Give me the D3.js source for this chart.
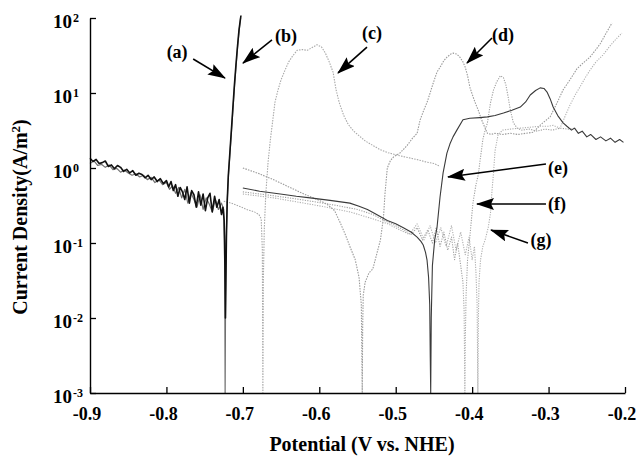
<!DOCTYPE html>
<html><head><meta charset="utf-8">
<script src="https://cdn.jsdelivr.net/npm/d3@7"></script>
<style>
body{margin:0;background:#fff;}
svg{display:block;}
text{font-family:"Liberation Serif","Times New Roman",serif;font-weight:bold;fill:#000;}
</style></head><body>
<svg id="chart" width="639" height="457"></svg>
<script>
// ---- tick definitions ----
const xTicks = [-0.9,-0.8,-0.7,-0.6,-0.5,-0.4,-0.3,-0.2];
const xTickLabels = ["-0.9","-0.8","-0.7","-0.6","-0.5","-0.4","-0.3","-0.2"];
const yTicks = [1e-3,1e-2,1e-1,1,10,100];
const yTickExponents = ["-3","-2","-1","0","1","2"];

// ---- series (potential V vs NHE, current density A/m2) ----
const potA = [-0.900,-0.896,-0.892,-0.888,-0.884,-0.880,-0.876,-0.872,-0.868,-0.864,-0.860,-0.856,-0.852,-0.848,-0.844,-0.840,-0.836,-0.832,-0.828,-0.824,-0.820,-0.816,-0.812,-0.808,-0.804,-0.800,
  -0.797,-0.794,-0.791,-0.788,-0.785,-0.782,-0.779,-0.776,-0.773,-0.770,-0.767,-0.764,-0.761,-0.758,-0.755,-0.752,-0.749,-0.746,-0.743,-0.740,-0.737,-0.734,-0.731,-0.728,
  -0.726,-0.7245,-0.7235,-0.7228,-0.7222,-0.7215,-0.7205,-0.719,-0.717,-0.715,-0.713,-0.711,-0.709,-0.707,-0.705,-0.7025];
const curA = [1.35,1.22,1.30,1.15,1.18,1.24,1.05,1.10,0.98,1.08,1.02,0.90,0.96,0.86,0.92,0.80,0.85,0.82,0.74,0.80,0.70,0.76,0.66,0.72,0.62,0.68,
  0.56,0.66,0.50,0.60,0.42,0.55,0.48,0.38,0.56,0.34,0.50,0.44,0.30,0.48,0.32,0.45,0.27,0.40,0.46,0.26,0.42,0.30,0.38,0.24,
  0.30,0.20,0.05,0.010,0.03,0.12,0.35,0.80,1.6,3.2,6.5,13,24,42,70,108];

const potB = [-0.900,-0.895,-0.890,-0.885,-0.880,-0.875,-0.870,-0.865,-0.860,-0.855,-0.850,-0.845,-0.840,-0.835,-0.830,-0.825,-0.820,-0.815,-0.810,-0.805,-0.800,
  -0.796,-0.792,-0.788,-0.784,-0.780,-0.776,-0.772,-0.768,-0.764,-0.760,-0.756,-0.752,-0.748,-0.744,-0.740,-0.736,-0.732,-0.728,
  -0.725,-0.7238,-0.7232,-0.7226,-0.722,-0.7205,-0.719,-0.717,-0.715,-0.713,-0.711,-0.709,-0.707,-0.705,-0.703];
const curB = [1.15,1.25,1.08,1.12,1.02,1.10,0.95,0.99,0.88,0.94,0.86,0.80,0.84,0.76,0.80,0.70,0.75,0.64,0.70,0.60,0.64,
  0.52,0.58,0.46,0.55,0.40,0.52,0.34,0.47,0.38,0.30,0.44,0.28,0.40,0.33,0.26,0.38,0.28,0.34,
  0.28,0.10,0.001,0.02,0.10,0.35,0.75,1.5,3.0,6.0,12,22,40,65,100];

const potC = [-0.725,-0.715,-0.705,-0.695,-0.685,-0.679,-0.676,-0.6745,-0.6738,-0.6732,-0.672,-0.670,-0.667,-0.664,-0.661,-0.658,-0.654,-0.650,-0.645,-0.640,
  -0.635,-0.629,-0.622,-0.616,-0.610,-0.603,-0.597,-0.592,-0.587,-0.582,-0.578,-0.574,-0.568,-0.562,-0.555,-0.548,-0.540,-0.530,-0.520,-0.510,
  -0.500,-0.490,-0.480,-0.470,-0.460,-0.450,-0.442];
const curC = [0.36,0.34,0.31,0.28,0.26,0.24,0.21,0.08,0.001,0.03,0.15,0.45,1.2,2.4,4.2,7.5,11,15,20,26,
  31,37,38,37,40,44,41,34,26,19,11,7.5,5.0,3.8,3.1,2.7,2.3,2.0,1.75,1.6,
  1.5,1.42,1.35,1.28,1.2,1.15,1.05];

const potD = [-0.700,-0.680,-0.660,-0.640,-0.620,-0.600,-0.590,-0.580,-0.573,-0.566,-0.560,-0.553,-0.548,-0.545,-0.5438,-0.5432,-0.5425,-0.540,-0.535,-0.530,
  -0.525,-0.520,-0.516,-0.514,-0.511,-0.507,-0.503,-0.494,-0.485,-0.478,-0.472,-0.468,-0.463,-0.459,-0.455,-0.451,-0.446,-0.442,-0.437,-0.433,
  -0.428,-0.425,-0.420,-0.416,-0.412,-0.409,-0.406,-0.403,-0.399,-0.395,-0.392,-0.389,-0.386,-0.383,-0.380,-0.375,-0.370,-0.360,-0.350,-0.340,-0.330,
  -0.320,-0.310,-0.298,-0.290,-0.281,-0.272,-0.263,-0.255,-0.246,-0.238,-0.232,-0.225,-0.217];
const curD = [1.0,0.85,0.70,0.56,0.45,0.37,0.33,0.27,0.19,0.13,0.09,0.06,0.035,0.015,0.001,0.008,0.02,0.03,0.04,0.045,
  0.07,0.11,0.22,0.46,1.0,1.25,1.4,1.6,2.0,2.5,2.9,4.4,6.0,7.5,10,13.5,19,22,27,30,
  33,34,33,30,26,22,17,12,9,7,5.9,4.8,4.0,3.4,2.9,2.8,2.9,2.8,2.9,2.8,2.9,
  3.0,3.8,4.8,7.0,11,15,21,25,30,38,46,62,86];

const potE = [-0.700,-0.678,-0.651,-0.630,-0.612,-0.586,-0.560,-0.548,-0.537,-0.525,-0.511,-0.500,-0.490,-0.480,-0.472,-0.467,-0.464,-0.461,-0.459,-0.457,
  -0.4555,-0.4548,-0.4542,-0.4535,-0.452,-0.449,-0.446,-0.442,-0.438,-0.433,-0.429,-0.425,-0.420,-0.412,-0.403,-0.390,-0.380,-0.370,-0.359,-0.348,
  -0.337,-0.330,-0.324,-0.317,-0.311,-0.306,-0.302,-0.298,-0.294,-0.288,-0.281,-0.276,-0.270,-0.266,-0.261,-0.256,-0.250,-0.245,-0.238,-0.232,
  -0.225,-0.219,-0.213,-0.207,-0.202];
const curE = [0.54,0.49,0.45,0.42,0.40,0.37,0.34,0.31,0.28,0.24,0.20,0.18,0.16,0.14,0.12,0.105,0.094,0.075,0.059,0.035,
  0.015,0.003,0.001,0.01,0.05,0.11,0.16,0.41,0.86,1.58,2.1,2.6,3.2,4.4,4.6,4.7,4.8,5.0,5.4,5.9,
  6.5,7.6,9.4,10.8,11.7,11.5,10.3,8.4,6.5,5.0,4.0,3.6,3.2,3.4,2.9,3.1,2.6,2.8,2.4,2.6,
  2.3,2.5,2.2,2.4,2.2];

const potF = [-0.700,-0.670,-0.640,-0.610,-0.580,-0.550,-0.530,-0.515,-0.500,-0.490,-0.480,-0.472,-0.465,-0.458,-0.452,-0.447,-0.442,-0.437,-0.432,-0.427,
  -0.423,-0.419,-0.415,-0.412,-0.4105,-0.4095,-0.4088,-0.408,-0.406,-0.403,-0.399,-0.395,-0.392,-0.389,-0.386,-0.383,-0.380,-0.376,-0.372,-0.368,
  -0.363,-0.359,-0.356,-0.353,-0.350,-0.346,-0.341,-0.335,-0.325,-0.315,-0.305,-0.295,-0.285,-0.275,-0.265];
const curF = [0.48,0.44,0.40,0.36,0.32,0.28,0.24,0.20,0.17,0.15,0.13,0.16,0.11,0.15,0.10,0.16,0.09,0.14,0.08,0.12,
  0.06,0.10,0.05,0.03,0.012,0.001,0.006,0.02,0.06,0.12,0.34,0.6,0.81,1.4,2.4,3.2,4.0,7.4,11,14,
  17,16,13,9,5.9,4.0,3.4,3.2,3.3,3.1,3.3,3.2,3.4,3.3,3.4];

const potG = [-0.700,-0.660,-0.620,-0.590,-0.560,-0.530,-0.510,-0.495,-0.482,-0.472,-0.463,-0.455,-0.448,-0.441,-0.434,-0.427,-0.421,-0.415,-0.409,-0.404,
  -0.400,-0.397,-0.395,-0.3935,-0.3925,-0.3918,-0.391,-0.389,-0.386,-0.383,-0.379,-0.376,-0.374,-0.372,-0.370,-0.366,-0.360,-0.350,-0.337,-0.324,
  -0.311,-0.300,-0.294,-0.288,-0.285,-0.278,-0.272,-0.265,-0.259,-0.252,-0.246,-0.238,-0.229,-0.220,-0.212,-0.204];
const curG = [0.45,0.40,0.34,0.30,0.26,0.21,0.18,0.15,0.13,0.18,0.11,0.17,0.10,0.16,0.09,0.17,0.08,0.14,0.07,0.12,
  0.06,0.09,0.04,0.015,0.001,0.01,0.03,0.06,0.09,0.11,0.16,0.25,0.5,0.86,1.7,2.8,3.2,3.3,3.4,3.5,
  3.6,3.6,3.7,3.5,3.4,5.0,6.9,9.5,12,16,20,26,32,42,52,63];

// ---- annotations (data coordinates) ----
const annLabels = ["(a)","(b)","(c)","(d)","(e)","(f)","(g)"];
const annLabelV = [-0.786,-0.6436,-0.531,-0.3596,-0.2877,-0.289,-0.310];
const annLabelI = [35.2,57.5,63,59.3,1.0,0.331,0.1096];
const annTailV = [-0.765,-0.6619,-0.5376,-0.374,-0.3034,-0.3034,-0.327];
const annTailI = [28.4,50.9,41,54.1,1.13,0.331,0.1];
const annTipV = [-0.7234,-0.6998,-0.5755,-0.4067,-0.4316,-0.3937,-0.3753];
const annTipI = [15.8,25.1,18.5,25.1,0.759,0.331,0.149];

// ---- drawing ----
const svg = d3.select("#chart");
const x = d3.scaleLinear().domain([-0.9,-0.2]).range([90,625]);
const y = d3.scaleLog().domain([1e-3,1e2]).range([393,18]);

const series = [
  {p:potC, c:curC, stroke:"#a8a8a8", w:1.1, dash:"1.5,1.2"},
  {p:potD, c:curD, stroke:"#9a9a9a", w:1.1, dash:"1.5,1.2"},
  {p:potF, c:curF, stroke:"#a0a0a0", w:1.1, dash:"1.2,1.3"},
  {p:potG, c:curG, stroke:"#b0b0b0", w:1.1, dash:"1.2,1.3"},
  {p:potE, c:curE, stroke:"#3a3a3a", w:1.1, dash:null},
  {p:potB, c:curB, stroke:"#707070", w:1.2, dash:null},
  {p:potA, c:curA, stroke:"#111111", w:1.6, dash:null}
];
const line = d3.line().x(d=>x(d[0])).y(d=>y(d[1]));
svg.append("g").selectAll("path").data(series).join("path")
  .attr("d", s => line(d3.zip(s.p, s.c)))
  .attr("fill","none")
  .attr("stroke", s=>s.stroke)
  .attr("stroke-width", s=>s.w)
  .attr("stroke-dasharray", s=>s.dash)
  .attr("stroke-linejoin","round");

// axes
const xAxis = d3.axisBottom(x).tickValues(xTicks).tickSize(-6).tickSizeOuter(0).tickFormat("");
const gx = svg.append("g").attr("transform","translate(0,393)").call(xAxis);
const yAxis = d3.axisLeft(y).tickValues(yTicks).tickSize(-6).tickSizeOuter(0).tickFormat("");
const gy = svg.append("g").attr("transform","translate(90,0)").call(yAxis);
[gx,gy].forEach(g=>{
  g.select(".domain").attr("stroke","#000").attr("stroke-width",1.4);
  g.selectAll(".tick line").attr("stroke","#000").attr("stroke-width",1.3);
});

svg.append("g").selectAll("text").data(xTicks).join("text")
  .attr("x", d=>x(d)-3).attr("y",420)
  .attr("text-anchor","middle").style("font-size","18px")
  .text((d,i)=>xTickLabels[i]);

const yl = svg.append("g");
yl.selectAll("text.base").data(yTicks).join("text").attr("class","base")
  .attr("x",72).attr("y",d=>y(d)+10)
  .attr("text-anchor","end").style("font-size","19px").text("10");
yl.selectAll("text.exp").data(yTicks).join("text").attr("class","exp")
  .attr("x",73).attr("y",d=>y(d)+4)
  .attr("text-anchor","start").style("font-size","12px")
  .text((d,i)=>yTickExponents[i]);

// titles
svg.append("text").attr("x",362).attr("y",451).attr("text-anchor","middle")
  .style("font-size","20px").text("Potential (V vs. NHE)");
const yt = svg.append("text").attr("transform","translate(27,217) rotate(-90)")
  .attr("text-anchor","middle").style("font-size","20px");
yt.append("tspan").text("Current Density(A/m");
yt.append("tspan").attr("dy",-7).style("font-size","13px").text("2");
yt.append("tspan").attr("dy",7).text(")");

// arrows
svg.append("defs").append("marker").attr("id","ah")
  .attr("viewBox","0 0 18 12").attr("refX",17).attr("refY",6)
  .attr("markerWidth",18).attr("markerHeight",12)
  .attr("markerUnits","userSpaceOnUse").attr("orient","auto")
  .append("path").attr("d","M0,0L18,6L0,12L3,6Z").attr("fill","#000");

const ann = svg.append("g");
ann.selectAll("line").data(annLabels).join("line")
  .attr("x1",(d,i)=>x(annTailV[i])).attr("y1",(d,i)=>y(annTailI[i]))
  .attr("x2",(d,i)=>x(annTipV[i])).attr("y2",(d,i)=>y(annTipI[i]))
  .attr("stroke","#000").attr("stroke-width",1.6).attr("marker-end","url(#ah)");
ann.selectAll("text").data(annLabels).join("text")
  .attr("x",(d,i)=>x(annLabelV[i])).attr("y",(d,i)=>y(annLabelI[i])+6)
  .attr("text-anchor","middle").style("font-size","18px")
  .text(d=>d);
</script>
</body></html>
